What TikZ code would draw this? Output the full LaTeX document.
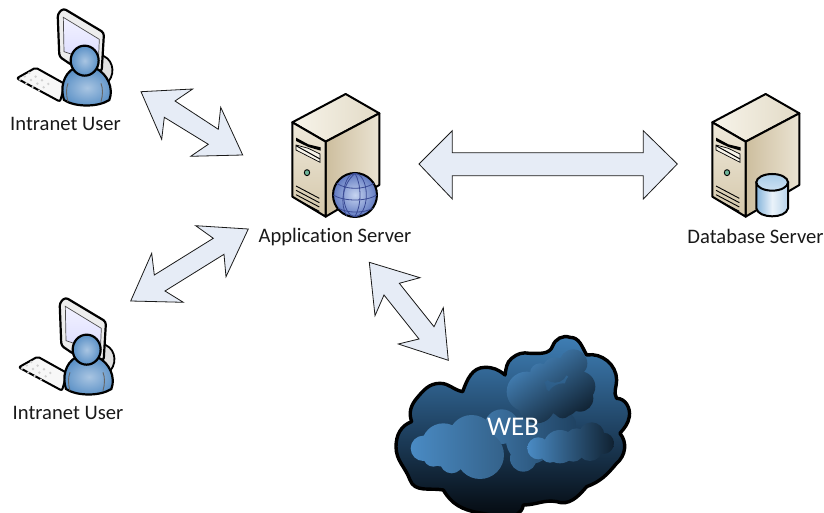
\documentclass[tikz,border=0pt]{standalone}
\usepackage{fontspec}
\setmainfont[Ligatures=NoCommon]{Carlito}
\usetikzlibrary{shadings}
\definecolor{arrowfill}{HTML}{E6ECF6}
\definecolor{arrowline}{HTML}{1A1A1A}
\definecolor{F1}{HTML}{F7F4EA}
\definecolor{F2}{HTML}{E2DAC6}
\definecolor{cream1}{HTML}{EFE9DA}
\definecolor{cream2}{HTML}{D4C7AA}
\definecolor{cream3}{HTML}{CDBE9E}
\definecolor{cream4}{HTML}{EAE3D2}
\definecolor{skin}{HTML}{5A90C6}
\definecolor{skinl}{HTML}{A9C5E2}
\definecolor{cyl1}{HTML}{86B4DB}
\definecolor{cyl2}{HTML}{EAF3FA}
\definecolor{cyltop}{HTML}{A9CCE8}
\definecolor{cl1}{HTML}{3F7FB6}
\definecolor{cl2}{HTML}{03060A}
\definecolor{cl3}{HTML}{1F4262}
\definecolor{glow}{HTML}{4A8BC4}
\definecolor{globein}{HTML}{C6D4F0}
\definecolor{globeout}{HTML}{5F78C0}
\definecolor{globeline}{HTML}{3A4A94}
\definecolor{led}{HTML}{6FB59A}
\tikzset{
  blockarrow/.style={draw=arrowline,fill=arrowfill,line width=0.8pt,line join=miter,miter limit=4},
  lbl/.style={font=\fontsize{20.6}{24}\selectfont,text=black!90,inner sep=0pt},
  icon/.style={x=0.3333pt,y=-0.3333pt},
  bold/.style={draw=black,line width=2pt,line join=round},
}
\newcommand{\serverbody}{%
  \shade[left color=F1,right color=F2,bold]
    (37,112) -- (197,27) -- (298,85) -- (137,170) -- cycle;
  \shade[left color=cream3,right color=cream4,bold]
    (137,170) -- (298,85) -- (298,300) -- (137,395) -- cycle;
  \shade[top color=cream1,bottom color=cream2,bold]
    (37,112) -- (137,170) -- (137,395) -- (37,335) -- cycle;
  \fill[black] (48,158) -- (85,178) -- (122,187) -- (122,197) -- (85,186) -- (48,168) -- cycle;
  \fill[F1,draw=black,line width=.7pt] (48,180) -- (85,190) -- (120,207) -- (120,232) -- (48,195) -- cycle;
  \draw[line width=1pt] (48,182) -- (120,222);
  \fill[fill=led,draw=black,line width=.9pt] (81,263) circle[x radius=8,y radius=9];
  \foreach \i in {0,13,26,39}{\draw[line width=.9pt] (48,{303+\i}) -- (118,{340+\i});}
}
\newcommand{\userbody}{%
  \fill[fill=white!88!black,draw=black,line width=1.8pt] (300,165) .. controls (335,170) and (350,215) .. (325,245) -- (290,230) -- cycle;
  \draw[bold,fill=white!93!black,line width=2.2pt,rounded corners=3pt] (173,42) -- (190,25) -- (312,98) -- (305,215) -- (215,195) -- (178,170) -- cycle;
  \shade[top color=blue!5!white,bottom color=blue!14!white,draw=black!70,line width=.7pt] (190,52) -- (298,118) -- (295,190) -- (192,155) -- cycle;
  \draw[bold,fill=white!97!black,line width=2pt,rounded corners=2pt] (50,235) -- (107,203) -- (195,252) -- (180,305) -- cycle;
  \foreach \a/\b in {0/0,1/0,2/0,3/0,0/1,1/1,2/1,3/1,0/2,1/2,2/2,3/2}
    {\fill[black!18] ({88+\a*19-\b*14},{219+\a*11+\b*10}) circle[radius=4];}
  \path[inner color=skinl,outer color=skin,draw=black,line width=2.2pt]
    (192,300) .. controls (180,265) and (190,222) .. (222,205)
    -- (288,205) .. controls (322,222) and (342,265) .. (328,300) .. controls (295,322) and (225,322) .. (192,300) -- cycle;
  \draw[black!60,line width=.9pt] (204,250) .. controls (198,265) and (198,285) .. (204,305);
  \draw[black!60,line width=.9pt] (303,250) .. controls (309,265) and (309,285) .. (303,305);
  \path[inner color=skinl,outer color=skin,draw=black,line width=2.2pt] (254,182) circle[x radius=42,y radius=45];
}
\begin{document}
\begin{tikzpicture}[x=1pt,y=-1pt]
\useasboundingbox (0,0) rectangle (824,513);
\draw[blockarrow] (141,91.7) -- (192.7,89) -- (175,101) -- (218.3,129.3) -- (220.7,107.3) -- (242.7,155) -- (190.7,156.3) -- (208.3,144.3) -- (164.3,117.3) -- (161.7,139.3) -- cycle;
\draw[blockarrow] (248.3,229) -- (195.7,225.7) -- (213.3,238.3) -- (154.3,275) -- (151.7,253.3) -- (130.7,301) -- (183.3,302.3) -- (165,291) -- (224,254.3) -- (226,276.7) -- cycle;
\draw[blockarrow] (369.3,262.3) -- (420,277.7) -- (399.3,283.3) -- (434,326.7) -- (443.3,307.7) -- (448.3,360.3) -- (398.3,344) -- (419,339) -- (384,295) -- (375,315.7) -- cycle;
\draw[blockarrow] (419,164) -- (452.3,130.7) -- (452.3,152.7) -- (643.3,152.7) -- (643.3,130.7) -- (677.3,164) -- (643.3,199) -- (643.3,175.7) -- (452.3,175.7) -- (452.3,199) -- cycle;
\begin{scope}[shift={(0,0)},icon]\userbody\end{scope}
\begin{scope}[shift={(2,289)},icon]\userbody\end{scope}
\begin{scope}[shift={(280,85)},icon]
  \serverbody
  \path[inner color=globein,outer color=globeout,draw=black,line width=2pt] (225,330) circle[radius=66];
  \begin{scope}[draw=globeline,line width=.8pt]
    \draw (225,330) circle[x radius=34,y radius=65];
    \draw (160,330) .. controls (190,350) and (260,350) .. (290,330);
    \draw (170,295) .. controls (200,315) and (250,315) .. (282,295);
    \draw (175,370) .. controls (205,385) and (250,385) .. (278,370);
    \draw (225,265) .. controls (245,300) and (245,360) .. (225,395);
    \draw (225,265) .. controls (185,300) and (180,360) .. (200,392);
  \end{scope}
\end{scope}
\begin{scope}[shift={(700,85)},icon]
  \serverbody
  \shade[left color=cyl1,right color=cyl1!60!white,middle color=cyl2,draw=black,line width=2pt]
    (169,292) -- (169,370) .. controls (175,402) and (258,402) .. (264,370) -- (264,292) -- cycle;
  \shade[top color=cyltop,bottom color=cyltop!60!white,draw=black,line width=2pt] (216.5,292) circle[x radius=47.5,y radius=25];
\end{scope}
\begin{scope}[shift={(390,330)},icon]
  \def\cloudpath{(488,48) to[out=70,in=160] (540,22) to[out=0,in=120] (590,75)
    to[out=10,in=90] (680,150) to[out=-90,in=120] (680,205)
    to[out=0,in=80] (718,260) to[out=-100,in=50] (690,310)
    to[out=-50,in=40] (680,400) to[out=-130,in=20] (590,470)
    to[out=-130,in=-20] (500,515) to[out=170,in=0] (400,525)
    to[out=-100,in=-10] (265,548) to[out=170,in=-60] (160,480)
    to[out=170,in=-70] (60,450) to[out=110,in=-90] (18,350)
    to[out=90,in=-160] (65,275) to[out=110,in=-130] (80,205)
    to[out=50,in=180] (150,160) to[out=0,in=170] (218,185)
    to[out=70,in=180] (285,112) to[out=0,in=140] (345,135)
    to[out=80,in=-140] (365,85) to[out=40,in=170] (420,70)
    to[out=0,in=-110] (488,48) -- cycle}
  \shade[top color=cl1,bottom color=cl2,middle color=cl3,draw=black,line width=3.4pt,line join=round] \cloudpath;
  % middle glow
  \begin{scope}
    \clip (335,290) circle[radius=52] (420,330) circle[radius=72] (400,385) circle[radius=40] (510,290) circle[radius=50];
    \shade[left color=glow!85!black,right color=cl3] (283,235) rectangle (560,425);
  \end{scope}
  % upper cloud
  \begin{scope}
    \clip (410,185) circle[radius=60] (450,130) circle[radius=30] (495,120) circle[radius=38]
      (550,100) circle[radius=42] (570,170) circle[radius=46] (520,210) circle[radius=50]
      (570,205) circle[radius=40] (440,225) circle[radius=55] (518,240) circle[radius=25];
    \shade[left color=glow,right color=cl3!50!black,shading angle=35] (340,50) rectangle (625,280);
  \end{scope}
  % large left cloud
  \begin{scope}
    \clip (100,355) circle[radius=38] (160,345) circle[radius=65] (245,325) circle[radius=70]
      (270,375) circle[radius=72] (185,395) circle[radius=35] (130,380) circle[radius=30];
    \shade[left color=glow,right color=glow!70!black] (60,250) rectangle (345,450);
  \end{scope}
  % right cloud
  \begin{scope}
    \clip (445,355) circle[radius=33] (510,350) circle[radius=50] (560,330) circle[radius=35]
      (605,315) circle[radius=38] (640,340) circle[radius=32] (600,355) circle[radius=38]
      (550,365) circle[radius=30] (480,370) circle[radius=28];
    \shade[left color=glow,right color=cl3!50!black] (412,270) rectangle (672,410);
  \end{scope}
\end{scope}
\node[lbl] (user1) at (65.5,124) {Intranet User};
\node[lbl] (user2) at (68,413) {Intranet User};
\node[lbl] (app) at (335,237) {Application Server};
\node[lbl] (db) at (755.5,236) {Database Server};
\node[lbl,text=white,font=\fontsize{27}{30}\selectfont] (web) at (513,427) {WEB};
\end{tikzpicture}
\end{document}
